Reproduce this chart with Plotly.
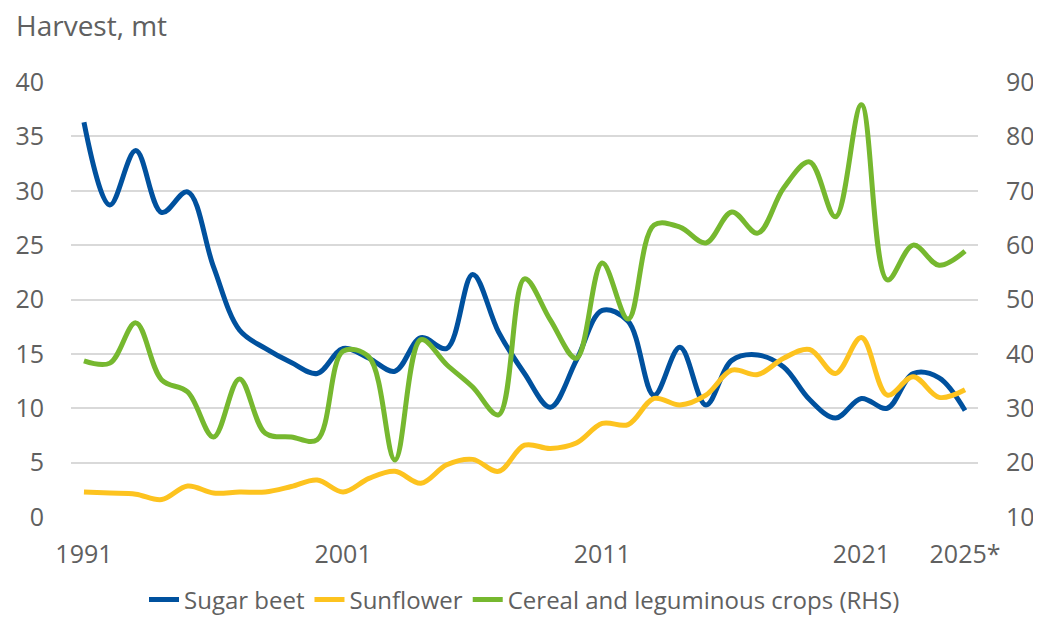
import plotly.graph_objects as go

years = list(range(1991, 2026))
sugar_beet = [36.3, 28.7, 33.7, 28.0, 29.9, 23.0, 17.2, 15.5, 14.2, 13.2,
              15.5, 14.6, 13.4, 16.5, 15.5, 22.3, 17.0, 13.2, 10.1, 14.4,
              19.0, 18.0, 11.2, 15.6, 10.3, 14.4, 14.9, 13.8, 10.8, 9.1,
              10.9, 10.0, 13.2, 12.8, 9.8]
sunflower = [2.3, 2.2, 2.1, 1.6, 2.85, 2.2, 2.3, 2.3, 2.8, 3.4,
             2.3, 3.55, 4.2, 3.1, 4.8, 5.3, 4.2, 6.6, 6.3, 6.8,
             8.6, 8.5, 10.9, 10.3, 11.2, 13.5, 13.1, 14.6, 15.4, 13.2,
             16.5, 11.2, 12.9, 11.0, 11.7]
cereal = [38.7, 38.3, 45.7, 35.2, 33.0, 24.7, 35.4, 25.4, 24.7, 24.2,
          40.5, 39.4, 20.5, 42.6, 38.0, 33.9, 28.8, 53.8, 46.2, 39.2,
          56.7, 46.4, 63.7, 63.3, 60.4, 66.1, 62.2, 70.5, 75.3, 65.2,
          85.8, 53.6, 60.0, 56.3, 58.9]
tick_years = [1991, 2001, 2011, 2021, 2025]
tick_labels = ["1991", "2001", "2011", "2021", "2025*"]

FONT = "Open Sans"
GREY = "#606060"

OFF = 8  # default page body margin
W, H = 1041 - OFF, 627 - 2 * OFF
ML, MT = 71 - OFF, 82 - OFF
MR, MB = 63, 110 - OFF
pw = W - ML - MR
ph = H - MT - MB

fig = go.Figure()
fig.add_trace(go.Scatter(x=years, y=sugar_beet, name="Sugar beet", mode="lines",
                         line=dict(color="#00519E", width=5, shape="spline", smoothing=1)))
fig.add_trace(go.Scatter(x=years, y=sunflower, name="Sunflower", mode="lines",
                         line=dict(color="#FDC31F", width=5, shape="spline", smoothing=1)))
fig.add_trace(go.Scatter(x=years, y=cereal, name="Cereal and leguminous crops (RHS)", mode="lines",
                         yaxis="y2",
                         line=dict(color="#76B82F", width=5, shape="spline", smoothing=1)))

fig.update_layout(
    width=W, height=H,
    margin=dict(l=ML, r=MR, t=MT, b=MB, autoexpand=False),
    paper_bgcolor="white", plot_bgcolor="white",
    font=dict(family=FONT, color=GREY, size=25),
    showlegend=True,
    legend=dict(orientation="h", x=0.5, xanchor="center",
                y=(H - MB - (600 - OFF)) / ph, yanchor="middle",
                font=dict(size=24, color=GREY), traceorder="normal"),
    xaxis=dict(range=[1990.5, 2025.5], tickmode="array", tickvals=tick_years,
               ticktext=tick_labels, showgrid=False, zeroline=False, showline=False,
               ticks="", ticklabelstandoff=20, tickfont=dict(size=25, color=GREY)),
    yaxis=dict(range=[0, 40], dtick=5, showgrid=True, gridcolor="#D9D9D9", gridwidth=1.5,
               zeroline=False, showline=False, ticks="", ticklabelstandoff=26,
               tickfont=dict(size=25, color=GREY)),
    yaxis2=dict(range=[10, 90], dtick=10, overlaying="y", side="right", showgrid=False,
                zeroline=False, showline=False, ticks="", ticklabelstandoff=27,
                tickfont=dict(size=25, color=GREY)),
    annotations=[dict(text="Harvest, mt", xref="paper", yref="paper",
                      x=(14 - OFF - ML) / pw, y=(H - MB - (25 - OFF)) / ph,
                      xanchor="left", yanchor="middle", showarrow=False,
                      font=dict(size=28, color=GREY))],
)

fig.write_html("out.html")
